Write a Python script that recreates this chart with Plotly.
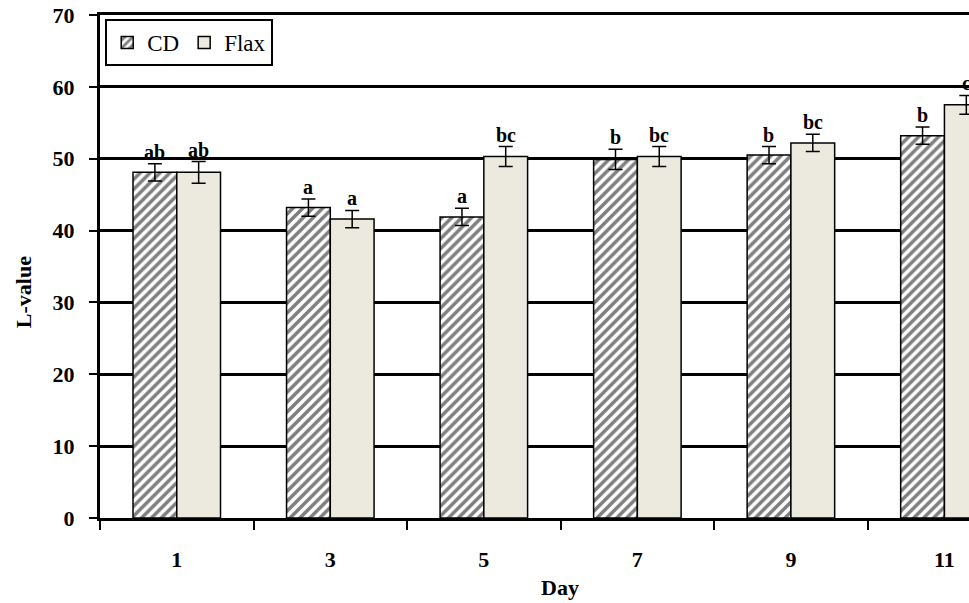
import plotly.graph_objects as go

days = ["1", "3", "5", "7", "9", "11"]
cd_values = [48.1, 43.2, 41.9, 49.9, 50.5, 53.2]
cd_errors = [1.2, 1.2, 1.2, 1.4, 1.2, 1.2]
flax_values = [48.1, 41.6, 50.3, 50.3, 52.2, 57.5]
flax_errors = [1.5, 1.2, 1.4, 1.4, 1.2, 1.3]
cd_letters = ["ab", "a", "a", "b", "b", "b"]
flax_letters = ["ab", "a", "bc", "bc", "bc", "c"]

serif = "Liberation Serif"
bold_font = dict(family=serif, size=22, color="black", weight="bold")

fig = go.Figure()
fig.add_trace(go.Bar(
    name="CD", x=days, y=cd_values,
    error_y=dict(type="data", array=cd_errors, color="black", thickness=1.5, width=7),
    marker=dict(color="white", line=dict(color="black", width=1.5),
                pattern=dict(shape="/", fgcolor="black", bgcolor="white", size=7, solidity=0.5)),
))
fig.add_trace(go.Bar(
    name="Flax", x=days, y=flax_values,
    error_y=dict(type="data", array=flax_errors, color="black", thickness=1.5, width=7),
    marker=dict(color="#ECEADF", line=dict(color="black", width=1.5)),
))

annotations = []
for i in range(len(days)):
    for letters, vals, errs, shift in ((cd_letters, cd_values, cd_errors, -22),
                                      (flax_letters, flax_values, flax_errors, 22)):
        annotations.append(dict(
            x=i, y=vals[i] + errs[i], xref="x", yref="y", text=letters[i], showarrow=False,
            xshift=shift, yshift=-1, yanchor="bottom",
            font=dict(family=serif, size=20, color="black", weight="bold"),
        ))
# axis titles
annotations.append(dict(x=(560 - 100) / 869, xref="paper", y=-0.139, yref="paper", text="Day",
                        showarrow=False, xanchor="center", yanchor="middle", font=bold_font))
annotations.append(dict(x=-0.0886, xref="paper", y=0.449, yref="paper", text="L-value", showarrow=False,
                        textangle=-90, xanchor="center", yanchor="middle", font=bold_font))

fig.update_layout(
    width=969, height=603,
    margin=dict(l=100, r=0, t=15, b=85, autoexpand=False),
    paper_bgcolor="white", plot_bgcolor="white",
    barmode="group", bargap=0.43, bargroupgap=0,
    font=dict(family=serif, color="black"),
    annotations=annotations,
    legend=dict(
        orientation="h", x=0.006, y=0.992, xanchor="left", yanchor="top",
        bgcolor="white", bordercolor="black", borderwidth=2,
        font=dict(family="Liberation Serif, Times New Roman, serif", size=23, color="black"),
        itemwidth=30, tracegroupgap=0,
    ),
    xaxis=dict(
        type="category", range=[-0.5, 5.16], automargin=False,
        showline=True, linecolor="black", linewidth=3, mirror=True,
        ticks="outside", tickson="boundaries", ticklen=9, tickwidth=2, tickcolor="black",
        showgrid=False, ticklabelstandoff=20,
        tickfont=bold_font,
    ),
    yaxis=dict(
        range=[0, 70], dtick=10, automargin=False,
        showline=True, linecolor="black", linewidth=3,
        ticks="outside", ticklen=8, tickwidth=2, tickcolor="black",
        showgrid=True, gridcolor="black", gridwidth=3,
        zeroline=False, ticklabelstandoff=10,
        tickfont=bold_font,
    ),
)

fig.write_html("out.html", config={"displayModeBar": False},
               post_script="document.body.style.margin='0';")
